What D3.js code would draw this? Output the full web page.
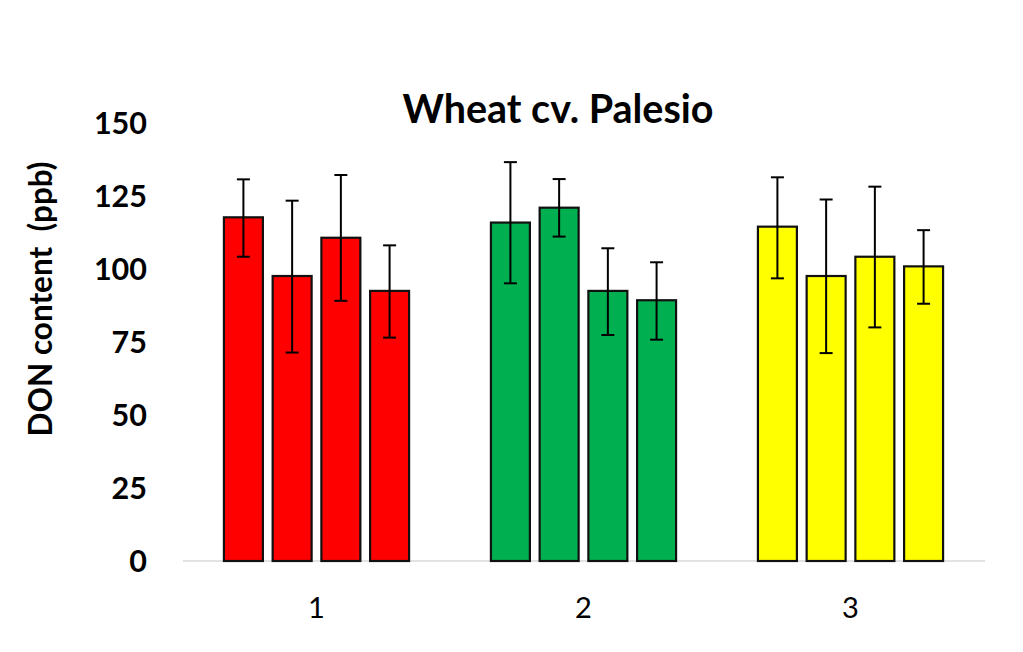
<!DOCTYPE html>
<html><head><meta charset="utf-8">
<script src="https://cdn.jsdelivr.net/npm/d3@7"></script>
<style>body{margin:0;background:#fff}svg{display:block}</style>
</head><body>
<svg id="c" width="1023" height="652"></svg>
<script>
const categories = ["1","2","3"];
const series = ["a","b","c","d"];
const colors = ["#ff0000","#00b050","#ffff00"];
const values = [
  [117.7, 97.6, 110.7, 92.5],
  [115.9, 121.0, 92.5, 89.3],
  [114.5, 97.6, 104.2, 100.9]
];
const errLow = [
  [104.2, 71.4, 89.1, 76.5],
  [95.1, 111.1, 77.4, 75.8],
  [96.8, 71.2, 80.0, 88.1]
];
const errHigh = [
  [130.7, 123.4, 132.2, 108.1],
  [136.6, 130.8, 107.1, 102.3],
  [131.4, 123.8, 128.2, 113.3]
];
const yTicks = [0,25,50,75,100,125,150];

const svg = d3.select("#c");
const x0 = d3.scaleBand().domain(categories).range([183,984]).paddingInner(0.27).paddingOuter(0.135);
const x1 = d3.scaleBand().domain(series).range([0,x0.bandwidth()]).paddingInner(0.2).paddingOuter(0.1);
const y = d3.scaleLinear().domain([0,150]).range([561,123]);

svg.append("line").attr("x1",183).attr("x2",985).attr("y1",y(0)).attr("y2",y(0))
  .attr("stroke","#d9d9d9").attr("stroke-width",1.5);

const g = svg.append("g");
categories.forEach((c,ci)=>{
  const gg = g.append("g").attr("transform",`translate(${x0(c)},0)`);
  series.forEach((s,si)=>{
    const v = values[ci][si];
    gg.append("rect").attr("x",x1(s)).attr("width",x1.bandwidth())
      .attr("y",y(v)).attr("height",y(0)-y(v))
      .attr("fill",colors[ci]).attr("stroke","#111").attr("stroke-width",2.2);
    const cx = x1(s)+x1.bandwidth()/2;
    const lo = errLow[ci][si], hi = errHigh[ci][si];
    gg.append("line").attr("x1",cx).attr("x2",cx).attr("y1",y(lo)).attr("y2",y(hi))
      .attr("stroke","#000").attr("stroke-width",2);
    [lo,hi].forEach(e=>{
      gg.append("line").attr("x1",cx-6.5).attr("x2",cx+6.5).attr("y1",y(e)).attr("y2",y(e))
        .attr("stroke","#000").attr("stroke-width",2);
    });
  });
});

const yAxis = d3.axisLeft(y).tickValues(yTicks).tickSize(0).tickPadding(0);
const ya = svg.append("g").attr("transform","translate(147,0)").call(yAxis);
ya.select(".domain").remove();
ya.selectAll("text").attr("font-family","Lato, 'Open Sans', sans-serif").attr("font-weight","bold")
  .attr("font-size",30.5).attr("fill","#000").attr("dy","0.36em");

const xAxis = d3.axisBottom(x0).tickSize(0).tickPadding(0);
const xa = svg.append("g").attr("transform","translate(0,597)").call(xAxis);
xa.select(".domain").remove();
xa.selectAll("text").attr("font-family","Lato, 'Open Sans', sans-serif")
  .attr("font-size",29).attr("fill","#000").attr("dy","0.71em");

svg.append("text").attr("x",558).attr("y",123).attr("text-anchor","middle")
  .attr("font-family","Lato, 'Open Sans', sans-serif").attr("font-weight","bold")
  .attr("font-size",39.5).attr("fill","#000").text("Wheat cv. Palesio");

svg.append("text").attr("transform","translate(52,299) rotate(-90)").attr("text-anchor","middle")
  .attr("font-family","Lato, 'Open Sans', sans-serif").attr("font-weight","bold")
  .attr("font-size",31.5).attr("fill","#000").attr("xml:space","preserve").style("white-space","pre")
  .text("DON content  (ppb)");
</script>
</body></html>
